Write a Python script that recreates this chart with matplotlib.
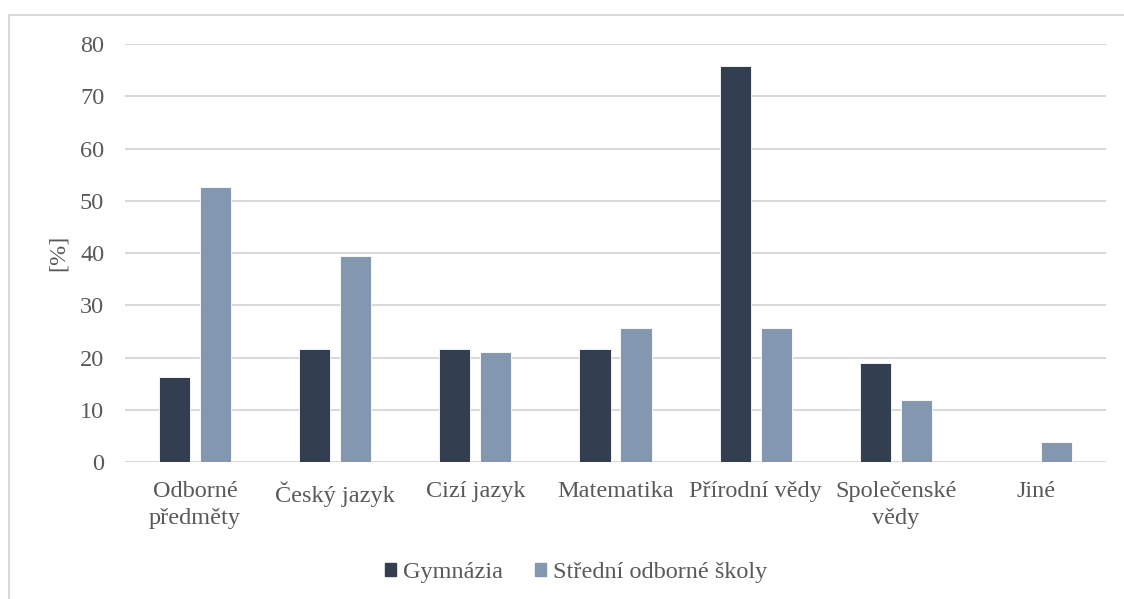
import matplotlib
matplotlib.use('Agg')
from matplotlib import pyplot as plt
from matplotlib.lines import Line2D
from matplotlib.patches import Patch
import numpy as np

# data
categories = ['Odborné\npředměty', 'Český jazyk', 'Cizí jazyk', 'Matematika',
              'Přírodní vědy', 'Společenské\nvědy', 'Jiné']
gymnazia = [16.2, 21.6, 21.6, 21.6, 75.7, 18.9, 0.0]
sos = [52.6, 39.5, 21.1, 25.6, 25.6, 11.8, 3.9]
series_names = ['Gymnázia', 'Střední odborné školy']
yticks = [0, 10, 20, 30, 40, 50, 60, 70, 80]

dark = '#333F50'
light = '#8497B0'
grid_col = '#D9D9D9'
text_col = '#595959'
fs = 17.5

plt.rcParams['font.family'] = ['Liberation Serif', 'DejaVu Serif']

fig = plt.figure(figsize=(11.24, 5.99), dpi=100)
ax = fig.add_axes([0.1112, 0.2287, 0.8728, 0.6978])

x = np.arange(len(categories))
w = 0.222
off = 0.146
ax.bar(x - off, gymnazia, width=w, color=dark, edgecolor='white', linewidth=0.6, zorder=3)
ax.bar(x + off, sos, width=w, color=light, edgecolor='white', linewidth=0.6, zorder=3)

ax.set_xlim(-0.5, len(categories) - 0.5)
ax.set_ylim(0, 80)
ax.set_yticks(yticks)
ax.set_xticks(x)
ax.set_xticklabels(categories, fontsize=fs, color=text_col, linespacing=1.35, va='top')
ax.tick_params(axis='y', labelsize=fs, labelcolor=text_col, length=0, pad=15)
ax.tick_params(axis='x', length=0, pad=14)

ax.grid(axis='y', color=grid_col, linewidth=1.5, zorder=0)
for s in ax.spines.values():
    s.set_visible(False)

ax.set_ylabel('[%]', fontsize=fs, color=text_col, labelpad=8)

# legend
handles = [Patch(color=dark), Patch(color=light)]
fig.legend(handles, series_names, loc='center', bbox_to_anchor=(0.5125, 0.044),
           ncol=2, frameon=False, fontsize=fs, labelcolor=text_col,
           handlelength=0.45, handleheight=0.45, handletextpad=0.3, columnspacing=1.3)

# outer chart border (left and top visible)
bx = 8.5 / 1124
by = 1 - 14.5 / 599
fig.add_artist(Line2D([bx, bx], [0, by], color=grid_col, linewidth=1.5))
fig.add_artist(Line2D([bx, 1], [by, by], color=grid_col, linewidth=1.5))

fig.savefig('out.png', dpi=100, facecolor='white')
